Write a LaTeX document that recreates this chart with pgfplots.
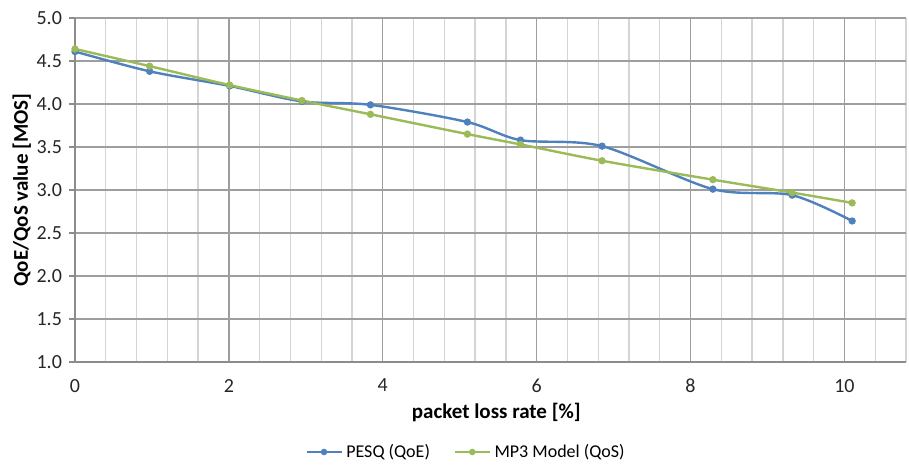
\documentclass[border=0pt]{standalone}
\usepackage{pgfplots}
\pgfplotsset{compat=1.18}
\usepackage{fontspec}
\setmainfont{Carlito}
\definecolor{pesq}{HTML}{4F81BD}
\definecolor{mp3}{HTML}{9BBB59}
\begin{document}
\begin{tikzpicture}
\useasboundingbox (-37.5pt,-51.5pt) rectangle (417pt,181pt);
\begin{axis}[
  at={(0,0)}, anchor=south west,
  width=415.5pt, height=172pt, scale only axis,
  xmin=0, xmax=10.8, ymin=1, ymax=5,
  xtick={0,2,...,10},
  minor xtick={0.4,0.8,1.2,1.6,2.4,2.8,3.2,3.6,4.4,4.8,5.2,5.6,6.4,6.8,7.2,7.6,8.4,8.8,9.2,9.6,10.4,10.8},
  ytick={1,1.5,...,5},
  grid=both,
  major grid style={color=black!38, line width=0.7pt},
  minor grid style={color=black!17, line width=0.7pt},
  axis x line=bottom, axis y line=left,
  axis line style={-, color=black!45, line width=0.7pt},
  tick align=outside, major tick length=3pt,
  x tick style={draw=none}, minor tick length=0pt,
  y tick style={color=black!45, line width=0.7pt},
  /pgf/number format/assume math mode=true,
  yticklabel style={/pgf/number format/.cd, fixed, fixed zerofill, precision=1},
  tick label style={font=\fontsize{10}{12}\selectfont, text=black!85},
  xticklabel style={yshift=-2pt},
  xlabel={\textbf{packet loss rate [\%]}},
  ylabel={\textbf{QoE/QoS value [MOS]}},
  label style={font=\fontsize{10.5}{12}\selectfont},
  xlabel style={at={(axis description cs:0.507,0)}, anchor=center, yshift=-25pt},
  ylabel style={at={(axis description cs:-0.064,0.5)}, anchor=center},
  legend style={at={(axis description cs:0.472,0)}, yshift=-45pt, anchor=center,
    draw=none, font=\fontsize{9}{11}\selectfont, legend columns=2,
    /tikz/every even column/.append style={column sep=10pt}},
  legend image post style={mark size=1pt},
]
\addplot[color=pesq, line width=1.2pt, smooth, tension=0.5, mark=*, mark size=1.2pt] coordinates {
(0,4.61) (0.97,4.38) (2.01,4.21) (2.95,4.03) (3.84,3.99) (5.10,3.79) (5.79,3.58) (6.85,3.51) (8.29,3.01) (9.32,2.94) (10.1,2.64)
};
\addlegendentry{PESQ (QoE)}
\addplot[color=mp3, line width=1.2pt, smooth, tension=0.5, mark=*, mark size=1.2pt] coordinates {
(0,4.64) (0.97,4.44) (2.01,4.22) (2.95,4.04) (3.84,3.88) (5.10,3.65) (5.79,3.53) (6.85,3.34) (8.29,3.12) (9.32,2.97) (10.1,2.85)
};
\addlegendentry{MP3 Model (QoS)}
\end{axis}
\end{tikzpicture}
\end{document}
